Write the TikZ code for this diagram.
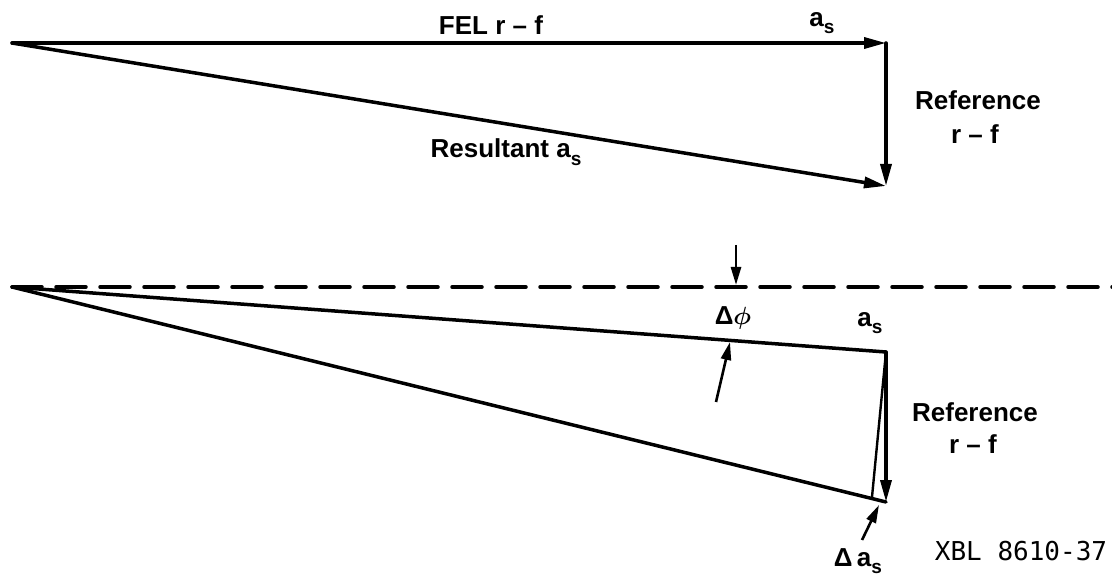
\documentclass[tikz,border=0pt]{standalone}
\usepackage{amsmath}
\usepackage{fontspec}
\setmainfont{Liberation Sans}
\setmonofont{DejaVu Sans Mono}
\usetikzlibrary{arrows.meta}
\newcommand{\sbs}[1]{\raisebox{-0.55ex}{\fontsize{19}{20}\selectfont #1}}

\begin{document}
\begin{tikzpicture}[x=1pt, y=-1pt, >={Triangle[length=22pt, width=11pt]},
    vec/.style={line width=3.5pt, line cap=round},
    pointer/.style={line width=2.6pt, ->, >={Triangle[length=18pt, width=10pt]}},
    lbl/.style={font=\fontsize{26}{30}\selectfont\bfseries, inner sep=0pt}]
    \useasboundingbox (0,0) rectangle (1112,577);

    % Top: FEL r-f plus reference r-f
    \coordinate (O1) at (12,43);
    \coordinate (A1) at (886,43);
    \coordinate (B1) at (886,186);
    \draw[vec,->] (O1) -- (A1);
    \draw[vec,->] (A1) -- (B1);
    \draw[vec,->] (O1) -- (B1);
    \node[lbl] (fel) at (491,25) {FEL r -- f};
    \node[lbl] (as1) at (822,23) {a\sbs{s}};
    \node[lbl] (ref1) at (978,100) {Reference};
    \node[lbl] (rf1) at (975,134) {r -- f};
    \node[lbl] (res) at (506,152) {Resultant a\sbs{s}};

    % Bottom: phase shift
    \coordinate (O2) at (12,287);
    \coordinate (D2) at (1112,287);
    \coordinate (A2) at (886,352);
    \coordinate (B2) at (886,502);
    \coordinate (C2) at (872,497);
    \draw[vec, dash pattern=on 30pt off 14pt] (O2) -- (D2);
    \draw[vec] (O2) -- (A2);
    \draw[vec] (O2) -- (B2);
    \draw[vec,->] (A2) -- (B2);
    \draw[line width=2.4pt] (A2) -- (C2);

    % Delta phi markers
    \coordinate (p1) at (736,245);
    \coordinate (p2) at (736,285);
    \coordinate (p3) at (716,402);
    \coordinate (p4) at (730,342);
    \draw[pointer] (p1) -- (p2);
    \draw[pointer] (p3) -- (p4);
    \node[lbl] (dphi) at (733,318) {Δ$\boldsymbol{\phi}$};

    % Delta a_s marker
    \coordinate (q1) at (862,540);
    \coordinate (q2) at (879,505);
    \draw[pointer] (q1) -- (q2);
    \node[lbl] (as2) at (870,323) {a\sbs{s}};
    \node[lbl] (ref2) at (975,412) {Reference};
    \node[lbl] (rf2) at (973,444) {r -- f};
    \node[lbl] (das) at (858,561) {Δ\,a\sbs{s}};
    \node[font=\ttfamily\fontsize{26}{30}\selectfont, inner sep=0pt] (xbl) at (1021,551) {XBL 8610-37};
\end{tikzpicture}
\end{document}
